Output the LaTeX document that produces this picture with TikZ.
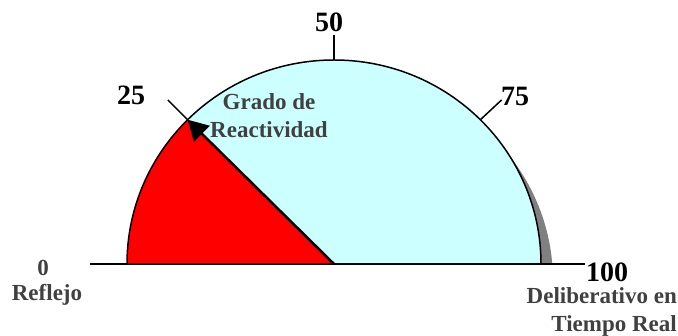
\documentclass[tikz,border=0pt]{standalone}
\usepackage{fontspec}
\setmainfont{Liberation Serif}
\usepackage{tikz}
\usepackage{xcolor}
\usetikzlibrary{arrows.meta}

\definecolor{dialcyan}{HTML}{CCFFFF}
\definecolor{labelgray}{HTML}{404040}
\definecolor{shadowgray}{HTML}{808080}

\begin{document}
\begin{tikzpicture}[x=1pt, y=1pt,
    bignum/.style={font=\fontsize{28}{30}\selectfont\bfseries, inner sep=0pt},
    caption/.style={font=\fontsize{23}{28}\selectfont\bfseries, text=labelgray, inner sep=0pt, align=center},
    tickline/.style={line width=1.5pt}]
    \useasboundingbox (0,0) rectangle (678,336);

    % Points of the dial
    \coordinate (centre) at (334,72);
    \coordinate (p25) at ([shift={(135:207 and 204)}]centre);
    \coordinate (p50) at ([shift={(90:207 and 204)}]centre);
    \coordinate (p75) at ([shift={(45:207 and 204)}]centre);
    \coordinate (t25) at ([shift={(135:235 and 232)}]centre);
    \coordinate (t50) at ([shift={(90:235 and 229)}]centre);
    \coordinate (t75) at ([shift={(45:237 and 232)}]centre);
    \coordinate (axisleft) at (90,72);
    \coordinate (axisright) at (585,72);

    % Shadow
    \begin{scope}
        \clip (0,72) rectangle (678,336);
        \fill[shadowgray] (346,55) ellipse [x radius=207, y radius=204];
    \end{scope}

    % Dial
    \fill[dialcyan] (centre) ++(207,0) arc [start angle=0, end angle=180, x radius=207, y radius=204] -- cycle;
    \fill[red] (centre) ++(-207,0) arc [start angle=180, end angle=135, x radius=207, y radius=204] -- (centre) -- cycle;
    \draw[line width=1.5pt] (centre) ++(207,0) arc [start angle=0, end angle=180, x radius=207, y radius=204];
    \draw[line width=1.5pt] (axisleft) -- (axisright);

    % Ticks
    \draw[tickline] (p25) -- (t25);
    \draw[tickline] (p50) -- (t50);
    \draw[tickline] (p75) -- (t75);

    % Pointer
    \draw[line width=2.5pt, -{Triangle[length=20pt, width=22pt]}] (centre) -- (p25);

    % Labels
    \node[bignum] (n25) at (131,241) {25};
    \node[bignum] (n50) at (329,314) {50};
    \node[bignum] (n75) at (515,240) {75};
    \node[bignum] (n100) at (607,64) {100};
    \node[caption] (n0) at (43,68) {0};
    \node[caption] (reflejo) at (47,41) {Reflejo};
    \node[caption] (grado) at (269,220) {Grado de\\Reactividad};
    \node[caption, align=right, anchor=east] (delib) at (677,24) {Deliberativo en\\Tiempo Real};
\end{tikzpicture}
\end{document}
